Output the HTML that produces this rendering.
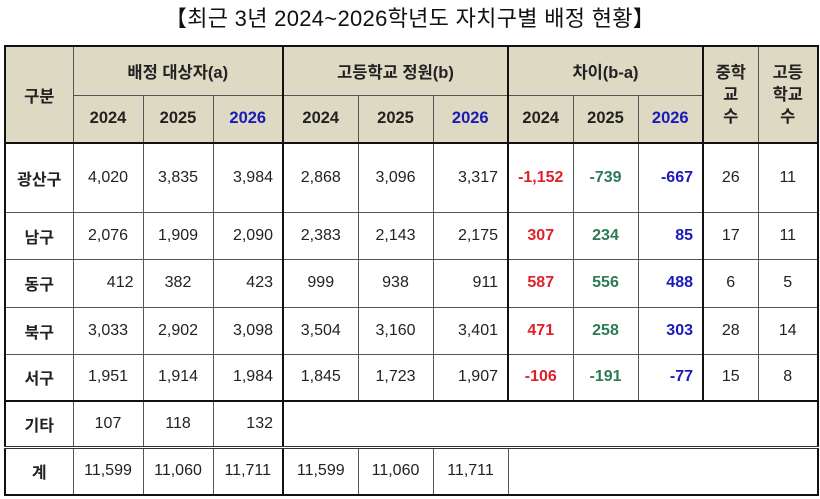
<!DOCTYPE html>
<html><head><meta charset="utf-8"><style>
body{margin:0;background:#fff;width:820px;height:499px;overflow:hidden;font-family:"Liberation Sans","Noto Sans CJK KR",sans-serif;}
.title{position:absolute;left:0;top:1px;width:820px;text-align:center;font-size:22px;color:#111;letter-spacing:0.3px}
table{position:absolute;left:4px;top:45px;border-collapse:collapse;table-layout:fixed;border:2.5px solid #111}
td{border:1px solid #555;font-size:16px;color:#222;padding:0;text-align:center}
.h{background:#ddd9c3;font-weight:bold;font-size:16.5px;color:#222}
.b{color:#1a1ab8}
.n{text-align:right;padding-right:9px}
.rl{border-left:2.5px solid #111}
.rd{color:#e0202a;font-weight:bold}
.gr{color:#2e7a57;font-weight:bold}
.bl{color:#1a1ab8;font-weight:bold}
.k{font-weight:bold}
.hb td{border-bottom:2.5px solid #111}
.dbl td{border-bottom:3px double #333}
</style></head><body>
<div class="title">【최근 3년 2024~2026학년도 자치구별 배정 현황】</div>
<table>
<colgroup><col style="width:68px"><col style="width:70px"><col style="width:70px"><col style="width:70px"><col style="width:75px"><col style="width:75px"><col style="width:75px"><col style="width:65px"><col style="width:65px"><col style="width:65px"><col style="width:55px"><col style="width:60px"></colgroup>
<tr style="height:49px"><td class="h" rowspan="2" style="border-bottom:2.5px solid #111">구분</td><td class="h" colspan="3">배정 대상자(a)</td><td class="h rl" colspan="3">고등학교 정원(b)</td><td class="h rl" colspan="3">차이(b-a)</td><td class="h rl" rowspan="2" style="border-bottom:2.5px solid #111;line-height:22px">중학<br>교<br>수</td><td class="h" rowspan="2" style="border-bottom:2.5px solid #111;line-height:22px">고등<br>학교<br>수</td></tr>
<tr style="height:48px" class="hb"><td class="h">2024</td><td class="h">2025</td><td class="h b">2026</td><td class="h rl">2024</td><td class="h">2025</td><td class="h b">2026</td><td class="h rl">2024</td><td class="h">2025</td><td class="h b">2026</td></tr>
<tr style="height:69px"><td class="k">광산구</td><td>4,020</td><td>3,835</td><td class="n">3,984</td><td class="rl">2,868</td><td>3,096</td><td class="n">3,317</td><td class="rl rd">-1,152</td><td class="gr">-739</td><td class="bl n">-667</td><td class="rl">26</td><td>11</td></tr>
<tr style="height:47px"><td class="k">남구</td><td>2,076</td><td>1,909</td><td class="n">2,090</td><td class="rl">2,383</td><td>2,143</td><td class="n">2,175</td><td class="rl rd">307</td><td class="gr">234</td><td class="bl n">85</td><td class="rl">17</td><td>11</td></tr>
<tr style="height:48px"><td class="k">동구</td><td class="n">412</td><td>382</td><td class="n">423</td><td class="rl">999</td><td>938</td><td class="n">911</td><td class="rl rd">587</td><td class="gr">556</td><td class="bl n">488</td><td class="rl">6</td><td>5</td></tr>
<tr style="height:47px"><td class="k">북구</td><td>3,033</td><td>2,902</td><td class="n">3,098</td><td class="rl">3,504</td><td>3,160</td><td class="n">3,401</td><td class="rl rd">471</td><td class="gr">258</td><td class="bl n">303</td><td class="rl">28</td><td>14</td></tr>
<tr style="height:47px" class="hb"><td class="k">서구</td><td>1,951</td><td>1,914</td><td class="n">1,984</td><td class="rl">1,845</td><td>1,723</td><td class="n">1,907</td><td class="rl rd">-106</td><td class="gr">-191</td><td class="bl n">-77</td><td class="rl">15</td><td>8</td></tr>
<tr style="height:46px" class="dbl"><td class="k">기타</td><td>107</td><td>118</td><td class="n">132</td><td class="rl" colspan="9"></td></tr>
<tr style="height:48px"><td class="k">계</td><td>11,599</td><td>11,060</td><td>11,711</td><td class="rl">11,599</td><td>11,060</td><td>11,711</td><td colspan="5" style="border-left:1px solid #333"></td></tr>
</table>
</body></html>
